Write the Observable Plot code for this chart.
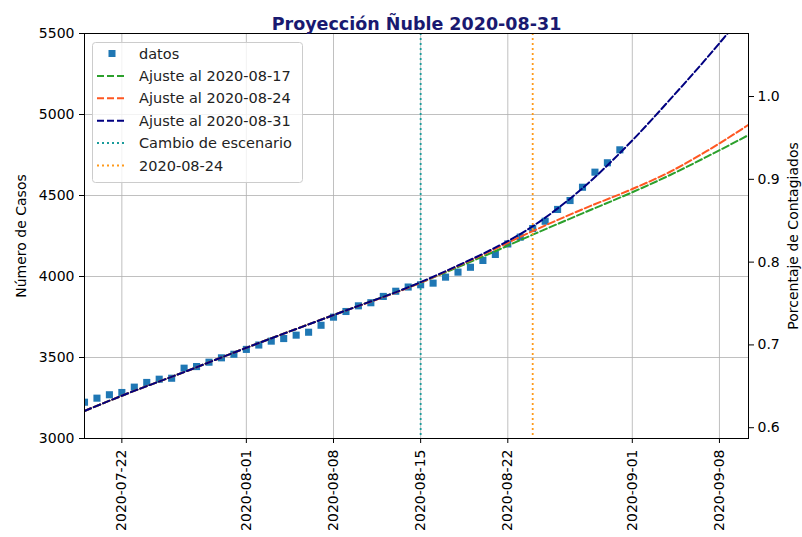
<!DOCTYPE html>
<html><head><meta charset="utf-8">
<script src="https://cdn.jsdelivr.net/npm/d3@7"></script>
<script src="https://cdn.jsdelivr.net/npm/@observablehq/plot@0.6"></script>
<style>
body{margin:0;background:#fff;}
#wrap{position:relative;width:802px;height:537px;font-family:"DejaVu Sans",sans-serif;}
#legend{position:absolute;left:0;top:0;pointer-events:none;}
</style></head><body><div id="wrap"></div>
<script>
const title = "Proyección Ñuble 2020-08-31";
const yLabel = "Número de Casos";
const y2Label = "Porcentaje de Contagiados";

const dataDates = ["2020-07-19","2020-07-20","2020-07-21","2020-07-22","2020-07-23","2020-07-24","2020-07-25","2020-07-26","2020-07-27","2020-07-28","2020-07-29","2020-07-30","2020-07-31","2020-08-01","2020-08-02","2020-08-03","2020-08-04","2020-08-05","2020-08-06","2020-08-07","2020-08-08","2020-08-09","2020-08-10","2020-08-11","2020-08-12","2020-08-13","2020-08-14","2020-08-15","2020-08-16","2020-08-17","2020-08-18","2020-08-19","2020-08-20","2020-08-21","2020-08-22","2020-08-23","2020-08-24","2020-08-25","2020-08-26","2020-08-27","2020-08-28","2020-08-29","2020-08-30","2020-08-31"];
const casos = [3224,3249,3270,3284,3317,3346,3366,3372,3434,3444,3471,3498,3520,3550,3577,3601,3617,3638,3656,3699,3749,3784,3819,3838,3877,3909,3935,3949,3959,3996,4027,4057,4099,4136,4201,4243,4296,4341,4414,4469,4551,4644,4702,4782];

const fitDates = ["2020-07-19","2020-07-22","2020-07-27","2020-08-01","2020-08-08","2020-08-15","2020-08-18","2020-08-20","2020-08-24","2020-08-28","2020-09-01","2020-09-04","2020-09-07","2020-09-11"];
const ajuste0817 = [3170,3264,3410,3560,3762,3962,4058,4123,4258,4390,4520,4625,4740,4900];
const ajuste0824 = [3170,3264,3410,3560,3762,3962,4065,4135,4280,4415,4540,4645,4775,4970];
const ajuste0831 = [3170,3264,3410,3560,3762,3965,4068,4140,4310,4545,4840,5090,5350,5720];

const xTicks = ["2020-07-22","2020-08-01","2020-08-08","2020-08-15","2020-08-22","2020-09-01","2020-09-08"];
const yTicks = [3000,3500,4000,4500,5000,5500];
const pctTicks = [0.6,0.7,0.8,0.9,1.0];
const poblacion = 511100;
const cambioEscenario = ["2020-08-15"];
const fechaCorte = ["2020-08-24"];

const legendLabels = ["datos","Ajuste al 2020-08-17","Ajuste al 2020-08-24","Ajuste al 2020-08-31","Cambio de escenario","2020-08-24"];

const parse = d3.utcParse("%Y-%m-%d");
const pts = dataDates.map((d,i)=>({date:parse(d), casos:casos[i]}));
const fitSeries = [
  {name:legendLabels[1], color:"#2ca02c", values:ajuste0817},
  {name:legendLabels[2], color:"#ff5722", values:ajuste0824},
  {name:legendLabels[3], color:"#000080", values:ajuste0831}
];
const dash = "7,3";
const dot = "2,3";
const pctToCases = p => p / 100 * poblacion;

const marks = [
  Plot.gridX(xTicks.map(parse), {stroke:"#b0b0b0", strokeOpacity:1, strokeWidth:0.8}),
  Plot.gridY(yTicks, {stroke:"#b0b0b0", strokeOpacity:1, strokeWidth:0.8}),
  Plot.dot(pts, {x:"date", y:"casos", symbol:"square", r:4, fill:"#1f77b4", stroke:null, clip:true})
];
for (const s of fitSeries) {
  marks.push(Plot.line(fitDates.map((d,i)=>({date:parse(d), v:s.values[i]})), {
    x:"date", y:"v", stroke:s.color, strokeWidth:2, strokeDasharray:dash, curve:"monotone-x", clip:true
  }));
}
marks.push(
  Plot.ruleX(cambioEscenario.map(parse), {stroke:"#1a9c9c", strokeWidth:1.8, strokeDasharray:dot}),
  Plot.ruleX(fechaCorte.map(parse), {stroke:"#ff9a1a", strokeWidth:1.8, strokeDasharray:dot}),
  Plot.frame({stroke:"black", strokeWidth:1}),
  Plot.axisX(xTicks.map(parse), {tickFormat:d3.utcFormat("%Y-%m-%d"), tickRotate:-90, tickSize:5, tickPadding:6, fontSize:14, label:null}),
  Plot.axisY(yTicks, {anchor:"left", tickSize:5, tickPadding:5, fontSize:14, tickFormat:d=>String(d), label:yLabel, labelAnchor:"center", labelArrow:"none", labelOffset:68}),
  Plot.axisY(pctTicks.map(pctToCases), {anchor:"right", tickSize:5, tickPadding:4, fontSize:14, tickFormat:d=>(d/poblacion*100).toFixed(1), label:y2Label, labelAnchor:"center", labelArrow:"none", labelOffset:49}),
  Plot.text([title], {text:d=>d, frameAnchor:"top", dy:-16, fontSize:17.5, fontWeight:"bold", fill:"#191970"})
);

const chart = Plot.plot({
  width:802, height:537,
  marginLeft:84, marginRight:54, marginTop:33, marginBottom:99,
  style:{fontFamily:"DejaVu Sans, sans-serif", fontSize:"14px", background:"white", color:"black", overflow:"visible"},
  x:{type:"utc", domain:[parse("2020-07-19"), new Date(Date.UTC(2020,8,10,8))]},
  y:{domain:[3000,5500]},
  marks
});
const wrap = document.getElementById("wrap");
wrap.appendChild(chart);

// legend overlay
const lg = d3.select(wrap).append("svg").attr("id","legend").attr("width",802).attr("height",537);
const lx = 92, ly = 42, lw = 210, lh = 140, rowH = 22.4, row0 = 53.5;
lg.append("rect").attr("x",lx+0.5).attr("y",ly+0.5).attr("width",lw).attr("height",lh)
  .attr("rx",3).attr("fill","rgba(255,255,255,0.8)").attr("stroke","#cccccc");
const legendStyles = [
  {type:"square", color:"#1f77b4"},
  {type:"line", color:"#2ca02c", dash:dash},
  {type:"line", color:"#ff5722", dash:dash},
  {type:"line", color:"#000080", dash:dash},
  {type:"line", color:"#1a9c9c", dash:dot},
  {type:"line", color:"#ff9a1a", dash:dot}
];
legendLabels.forEach((lab,i)=>{
  const cy = row0 + i*rowH, st = legendStyles[i];
  if (st.type==="square") {
    lg.append("rect").attr("x",108.5).attr("y",cy-3.5).attr("width",7).attr("height",7).attr("fill",st.color);
  } else {
    lg.append("line").attr("x1",97).attr("x2",127).attr("y1",cy).attr("y2",cy)
      .attr("stroke",st.color).attr("stroke-width",2).attr("stroke-dasharray",st.dash);
  }
  lg.append("text").attr("x",139).attr("y",cy).attr("dy","0.35em").attr("font-size",14.5)
    .attr("font-family","DejaVu Sans, sans-serif").attr("fill","#222").text(lab);
});
</script></body></html>
